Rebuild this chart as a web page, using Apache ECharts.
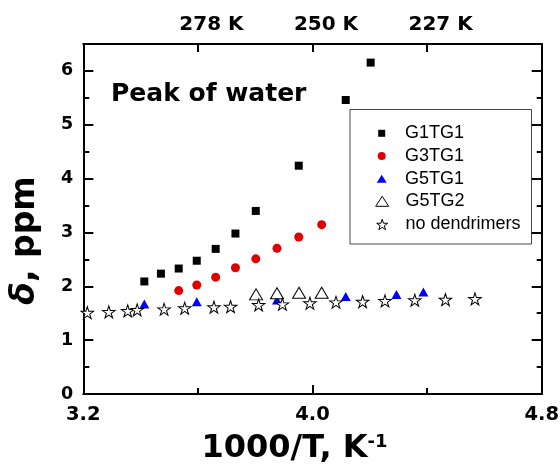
<!DOCTYPE html>
<html>
<head>
<meta charset="utf-8">
<script src="https://cdn.jsdelivr.net/npm/echarts/dist/echarts.min.js"></script>
<style>html,body{margin:0;padding:0;background:#fff}#c{width:560px;height:470px}</style>
</head>
<body>
<div id="c"></div>
<script>
// ---- data ----
const seriesNames = ['G1TG1', 'G3TG1', 'G5TG1', 'G5TG2', 'no dendrimers'];
const g1x = [3.413, 3.471, 3.533, 3.596, 3.662, 3.731, 3.802, 3.952, 4.116, 4.203];
const g1y = [2.09, 2.235, 2.33, 2.475, 2.695, 2.98, 3.40, 4.24, 5.46, 6.155];
const g3x = [3.533, 3.596, 3.662, 3.731, 3.802, 3.876, 3.952, 4.032];
const g3y = [1.92, 2.025, 2.17, 2.345, 2.51, 2.705, 2.915, 3.145];
const g5t1x = [3.413, 3.596, 3.876, 4.116, 4.293, 4.387];
const g5t1y = [1.67, 1.715, 1.745, 1.81, 1.85, 1.895];
const g5t2x = [3.803, 3.876, 3.953, 4.032];
const g5t2y = [1.85, 1.87, 1.88, 1.88];
const ndx = [3.214, 3.289, 3.355, 3.388, 3.482, 3.554, 3.656, 3.714, 3.812, 3.895, 3.991, 4.082, 4.175, 4.253, 4.357, 4.464, 4.567];
const ndy = [1.51, 1.523, 1.542, 1.56, 1.573, 1.592, 1.611, 1.622, 1.653, 1.666, 1.685, 1.703, 1.715, 1.728, 1.741, 1.752, 1.765];
const topTickValues = [3.6, 4.0, 4.4];
const topTickLabels = ['278 K', '250 K', '227 K'];
const annotationText = 'Peak of water';

// ---- helpers ----
const pairs = (xs, ys) => xs.map((x, i) => [x, ys[i]]);
function starPath() {
  let s = 'path://';
  for (let i = 0; i < 10; i++) {
    const r = i % 2 ? 0.382 : 1;
    const a = -Math.PI / 2 + i * Math.PI / 5;
    s += (i ? 'L' : 'M') + (r * Math.cos(a) * 100).toFixed(2) + ',' + (r * Math.sin(a) * 100).toFixed(2);
  }
  return s + 'Z';
}
const STAR = starPath();
const BOLD = { fontFamily: 'DejaVu Sans', fontWeight: 'bold', color: '#000' };
const AX = { color: '#000', width: 2 };

const seriesStyle = [
  { symbol: 'rect', size: 8, item: { color: '#000' }, leg: [7, 7] },
  { symbol: 'circle', size: 9, item: { color: '#e00000' }, leg: [8, 8] },
  { symbol: 'triangle', size: [10, 9], item: { color: '#0000ff' }, leg: [10, 8] },
  { symbol: 'triangle', size: [13, 11], item: { color: '#fff', borderColor: '#000', borderWidth: 1 }, leg: [13, 10] },
  { symbol: STAR, size: [12.5, 12], item: { color: '#fff', borderColor: '#000', borderWidth: 1 }, leg: [11, 10.5] }
];
const seriesData = [pairs(g1x, g1y), pairs(g3x, g3y), pairs(g5t1x, g5t1y), pairs(g5t2x, g5t2y), pairs(ndx, ndy)];
const legendRows = [133.3, 156, 178.7, 201.3, 224.5];

const series = seriesNames.map((n, i) => ({
  name: n, type: 'scatter', data: seriesData[i],
  symbol: seriesStyle[i].symbol, symbolSize: seriesStyle[i].size,
  itemStyle: Object.assign({ opacity: 1 }, seriesStyle[i].item), xAxisIndex: 0, yAxisIndex: 0,
  emphasis: { disabled: true }
}));

const legends = seriesNames.map((n, i) => {
  const [w, h] = seriesStyle[i].leg;
  const bordered = !!seriesStyle[i].item.borderColor;
  return {
    data: [{ name: n }], orient: 'vertical', selectedMode: false,
    left: 381.7 - w / 2, top: legendRows[i] - 9, padding: 0,
    itemWidth: w, itemHeight: h, symbolKeepAspect: false,
    itemStyle: bordered ? { borderColor: '#000', borderWidth: 1, opacity: 1 } : { borderWidth: 0, opacity: 1 },
    textStyle: { fontFamily: 'Liberation Sans, Arial', fontSize: 18, color: '#000', padding: [0, 0, 0, 18.3 - w / 2] }
  };
});

const chart = echarts.init(document.getElementById('c'), null, { renderer: 'canvas' });
chart.setOption({
  animation: false,
  backgroundColor: '#fff',
  grid: { left: 83.3, top: 44, width: 458.4, height: 350, outerBoundsMode: 'none' },
  legend: legends,
  xAxis: [
    {
      type: 'value', position: 'bottom', min: 3.2, max: 4.8, interval: 0.8,
      axisLine: { show: true, onZero: false, lineStyle: AX },
      axisTick: { show: true, inside: true, length: 9, lineStyle: AX },
      minorTick: { show: true, splitNumber: 2, length: 6, lineStyle: AX },
      splitLine: { show: false }, minorSplitLine: { show: false },
      axisLabel: Object.assign({ fontSize: 19.5, margin: 10.5, formatter: v => v.toFixed(1) }, BOLD),
      name: '{a|1000/T, K}{s|-1}', nameLocation: 'middle', nameGap: 39,
      nameTextStyle: {
        padding: [0, 36, 0, 0],
        rich: {
          a: Object.assign({ fontSize: 32 }, BOLD),
          s: Object.assign({ fontSize: 18, verticalAlign: 'top' }, BOLD)
        }
      }
    },
    {
      type: 'value', position: 'top', min: 3.2, max: 4.8, interval: 0.4,
      axisLine: { show: true, onZero: false, lineStyle: AX },
      axisTick: { show: true, inside: true, length: 8, lineStyle: AX },
      splitLine: { show: false },
      axisLabel: Object.assign({
        fontSize: 20, margin: 9.2, padding: [0, 0, 0, 27],
        formatter: v => { const k = topTickValues.findIndex(t => Math.abs(t - v) < 1e-6); return k >= 0 ? topTickLabels[k] : ''; }
      }, BOLD)
    }
  ],
  yAxis: [
    {
      type: 'value', position: 'left', min: 0, max: 6.5, interval: 1,
      axisLine: { show: true, onZero: false, lineStyle: AX },
      axisTick: { show: true, inside: true, length: 10, lineStyle: AX },
      splitLine: { show: false },
      axisLabel: Object.assign({ fontSize: 17.5, margin: 10, formatter: v => Number.isInteger(v) ? String(v) : '' }, BOLD),
      name: '{i|δ}{a|, ppm}', nameLocation: 'middle', nameGap: 41,
      nameTextStyle: {
        padding: [0, 43, 0, 0],
        rich: {
          i: Object.assign({ fontSize: 33, fontStyle: 'italic' }, BOLD),
          a: Object.assign({ fontSize: 33 }, BOLD)
        }
      }
    },
    {
      type: 'value', position: 'left', min: 0, max: 6.5, interval: 0.5,
      axisLine: { show: false }, axisLabel: { show: false }, splitLine: { show: false },
      axisTick: { show: true, inside: true, length: 6, lineStyle: AX }
    },
    {
      type: 'value', position: 'right', min: 0, max: 6.5, interval: 1,
      axisLine: { show: true, onZero: false, lineStyle: AX }, axisLabel: { show: false }, splitLine: { show: false },
      axisTick: { show: true, inside: true, length: 10, lineStyle: AX }
    },
    {
      type: 'value', position: 'right', min: 0, max: 6.5, interval: 0.5,
      axisLine: { show: false }, axisLabel: { show: false }, splitLine: { show: false },
      axisTick: { show: true, inside: true, length: 5, lineStyle: AX }
    }
  ],
  graphic: [
    { type: 'text', left: 111, top: 82, style: { text: annotationText, font: 'bold 25px "DejaVu Sans"', fill: '#000' } },
    { type: 'rect', shape: { x: 350, y: 109.5, width: 181.5, height: 134.5 }, style: { fill: 'none', stroke: '#444', lineWidth: 1 }, z: 0 }
  ],
  series: series
});
</script>
</body>
</html>
